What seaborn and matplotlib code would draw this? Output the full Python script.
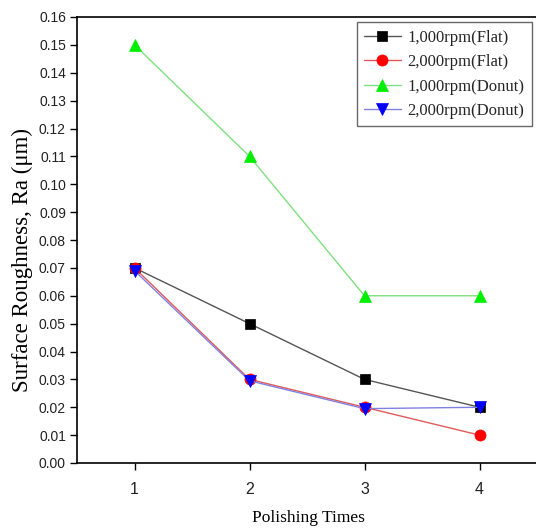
import matplotlib
matplotlib.use("Agg")
import matplotlib.pyplot as plt
import seaborn as sns
import pandas as pd

# Polishing passes and measured surface roughness (Ra, µm)
polishing_times = [1, 2, 3, 4]
flat_1000 = [0.070, 0.050, 0.030, 0.020]
flat_2000 = [0.070, 0.030, 0.020, 0.010]
donut_1000 = [0.150, 0.110, 0.060, 0.060]
donut_2000 = [0.069, 0.0295, 0.0195, 0.020]

series_labels = ["1,000rpm(Flat)", "2,000rpm(Flat)", "1,000rpm(Donut)", "2,000rpm(Donut)"]
y_ticks = [round(0.01 * i, 2) for i in range(17)]

sns.set_theme(style="white")
plt.rcParams["font.family"] = ["Liberation Sans", "DejaVu Sans"]

fig = plt.figure(figsize=(5.36, 5.32), dpi=100)
ax = fig.add_axes([77 / 536, 1 - 463 / 532, 460 / 536, (463 - 17) / 532])

styles = [
    dict(line="#555555", face="black", marker="s", ms=7.5),
    dict(line="#e05a5a", face="red", marker="o", ms=8),
    dict(line="#7fe07f", face="#00ee00", marker="^", ms=9),
    dict(line="#8080e0", face="blue", marker="v", ms=9),
]

for values, label, st in zip([flat_1000, flat_2000, donut_1000, donut_2000], series_labels, styles):
    df = pd.DataFrame({"x": polishing_times, "y": values})
    sns.lineplot(
        data=df, x="x", y="y", ax=ax, label=label,
        color=st["line"], linewidth=1.0,
        marker=st["marker"], markersize=st["ms"],
        markerfacecolor=st["face"], markeredgecolor=st["face"], markeredgewidth=0.5,
    )

ax.set_xlim(0.5, 4.5)
ax.set_ylim(0, 0.16)
ax.set_xticks(polishing_times)
ax.set_yticks(y_ticks)
ax.set_yticklabels([f"{v:.2f}" for v in y_ticks])
ax.tick_params(axis="both", direction="out", length=5, width=1, color="black",
               labelcolor="#222222", left=True, bottom=True)
ax.tick_params(axis="y", labelsize=10, pad=3)
ax.tick_params(axis="x", labelsize=11.5, pad=9)

for side in ["left", "bottom", "top"]:
    ax.spines[side].set_visible(True)
    ax.spines[side].set_color("black")
    ax.spines[side].set_linewidth(1.2)
ax.spines["right"].set_visible(False)

ax.set_xlabel("Polishing Times", family=["Liberation Serif"], fontsize=12.5, color="black")
ax.xaxis.set_label_coords(0.504, -0.106)
ax.set_ylabel("Surface Roughness, Ra (μm)", family=["Liberation Serif", "DejaVu Serif"],
              fontsize=16.5, color="black")
ax.yaxis.set_label_coords(-0.096, 0.455)

leg = ax.legend(loc="upper right", bbox_to_anchor=(0.989, 0.988), frameon=True, fancybox=False,
                prop={"family": "Liberation Serif", "size": 12}, handlelength=2.2,
                handletextpad=0.4, borderpad=0.45, labelspacing=0.5, borderaxespad=0.0)
leg.get_frame().set_edgecolor("#444444")
leg.get_frame().set_linewidth(1.0)

fig.savefig("out.png", dpi=100)
